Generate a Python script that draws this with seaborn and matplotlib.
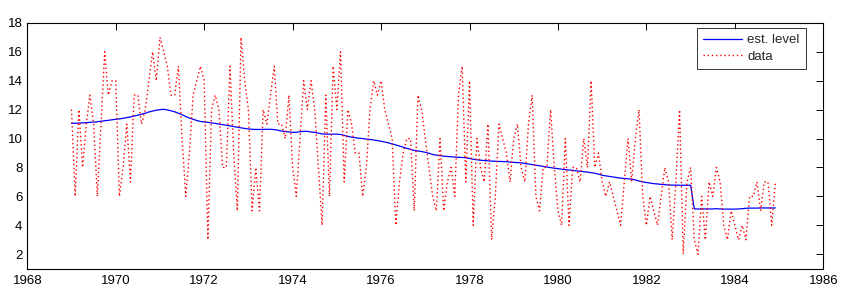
import numpy as np
import pandas as pd
import matplotlib
matplotlib.use("Agg")
import matplotlib.pyplot as plt
import seaborn as sns

# monthly counts, Jan 1969 - Dec 1984 (one row per year)
data = [
    12, 6, 12, 8, 11, 13, 11, 6, 11, 16, 13, 14,
    14, 6, 8, 11, 7, 13, 13, 11, 12, 14, 16, 14,
    17, 16, 15, 13, 13, 15, 10, 6, 9, 13, 14, 15,
    14, 3, 12, 13, 12, 8, 8, 15, 9, 5, 17, 14,
    12, 5, 8, 5, 12, 11, 13, 15, 11, 11, 10, 13,
    8, 6, 10, 14, 12, 14, 12, 8, 4, 13, 6, 15,
    12, 16, 7, 12, 11, 9, 9, 6, 8, 12, 14, 13,
    14, 12, 11, 10, 4, 7, 9, 10, 10, 5, 13, 12,
    10, 8, 6, 5, 10, 5, 7, 8, 6, 13, 15, 7,
    14, 4, 10, 8, 7, 11, 3, 6, 11, 10, 9, 7,
    10, 11, 8, 7, 11, 13, 6, 5, 8, 8, 12, 8,
    5, 4, 10, 4, 8, 8, 7, 10, 8, 14, 8, 9,
    7, 6, 7, 6, 5, 4, 7, 10, 7, 10, 12, 6,
    4, 6, 5, 4, 6, 8, 7, 3, 7, 12, 2, 7,
    8, 3, 2, 6, 3, 7, 6, 8, 7, 4, 3, 5,
    4, 3, 4, 3, 6, 6, 7, 5, 7, 7, 4, 7,
]

# estimated level
level = [
    11.05, 11.06, 11.07, 11.08, 11.10, 11.12, 11.14, 11.16, 11.20, 11.23, 11.26, 11.30,
    11.33, 11.36, 11.40, 11.45, 11.50, 11.56, 11.62, 11.68, 11.75, 11.84, 11.90, 11.96,
    12.00, 12.02, 11.98, 11.92, 11.85, 11.75, 11.65, 11.52, 11.42, 11.33, 11.25, 11.18,
    11.15, 11.12, 11.08, 11.05, 11.00, 10.96, 10.92, 10.88, 10.83, 10.78, 10.74, 10.70,
    10.66, 10.64, 10.63, 10.63, 10.63, 10.64, 10.64, 10.62, 10.58, 10.52, 10.48, 10.46,
    10.43, 10.43, 10.47, 10.50, 10.50, 10.45, 10.43, 10.37, 10.32, 10.30, 10.30, 10.30,
    10.30, 10.28, 10.22, 10.15, 10.10, 10.06, 10.02, 10.00, 9.96, 9.94, 9.90, 9.86,
    9.81, 9.76, 9.70, 9.63, 9.56, 9.48, 9.40, 9.32, 9.25, 9.18, 9.14, 9.10,
    9.05, 8.98, 8.90, 8.85, 8.82, 8.78, 8.76, 8.74, 8.72, 8.70, 8.69, 8.67,
    8.62, 8.57, 8.53, 8.50, 8.48, 8.46, 8.44, 8.43, 8.42, 8.41, 8.40, 8.37,
    8.35, 8.34, 8.32, 8.27, 8.24, 8.20, 8.15, 8.12, 8.07, 8.03, 7.99, 7.95,
    7.92, 7.88, 7.85, 7.83, 7.80, 7.77, 7.74, 7.71, 7.68, 7.64, 7.60, 7.54,
    7.46, 7.42, 7.38, 7.34, 7.30, 7.26, 7.24, 7.22, 7.18, 7.14, 7.06, 7.00,
    6.96, 6.92, 6.88, 6.86, 6.83, 6.81, 6.79, 6.78, 6.78, 6.77, 6.77, 6.77,
    6.77, 5.13, 5.13, 5.13, 5.13, 5.13, 5.13, 5.15, 5.13, 5.12, 5.12, 5.12,
    5.12, 5.13, 5.15, 5.18, 5.19, 5.19, 5.19, 5.20, 5.20, 5.20, 5.20, 5.20,
]

start_year = 1969
x_ticks = list(range(1968, 1987, 2))
y_ticks = list(range(2, 19, 2))

df = pd.DataFrame({"t": start_year + np.arange(len(data)) / 12.0,
                   "data": data, "level": level})

sns.set_style("white")
plt.rcParams["font.family"] = ["Liberation Sans", "DejaVu Sans"]

fig = plt.figure(figsize=(8.45, 3.02), dpi=100)
ax = fig.add_axes([0.0323, 0.1103, 0.942, 0.814])

sns.lineplot(data=df, x="t", y="level", color="blue", lw=0.9,
             label="est. level", ax=ax)
sns.lineplot(data=df, x="t", y="data", color="red", lw=1.0,
             dashes=False, label="data", ax=ax)
ax.lines[-1].set_linestyle((0, (1, 2.0)))

ax.set_xlim(1968, 1986)
ax.set_ylim(1, 18)
ax.set_xticks(x_ticks)
ax.set_yticks(y_ticks)
ax.set_xlabel("")
ax.set_ylabel("")
ax.tick_params(direction="in", length=5, width=0.7, top=True, right=True,
               labelsize=9.5, colors="black")
ax.tick_params(axis="x", pad=4.5)
ax.tick_params(axis="y", pad=3.5)
for s in ax.spines.values():
    s.set_visible(True)
    s.set_color("black")
    s.set_linewidth(0.8)

leg = ax.legend(loc="upper right", bbox_to_anchor=(0.978, 0.978),
                borderaxespad=0, fontsize=9.5, fancybox=False,
                handlelength=3.0, handletextpad=0.4, labelspacing=0.3,
                borderpad=0.45)
leg.get_frame().set_edgecolor("black")
leg.get_frame().set_linewidth(0.7)
leg.get_lines()[1].set_linestyle((0, (1, 2.0)))

fig.savefig("out.png", dpi=100, facecolor="white")
